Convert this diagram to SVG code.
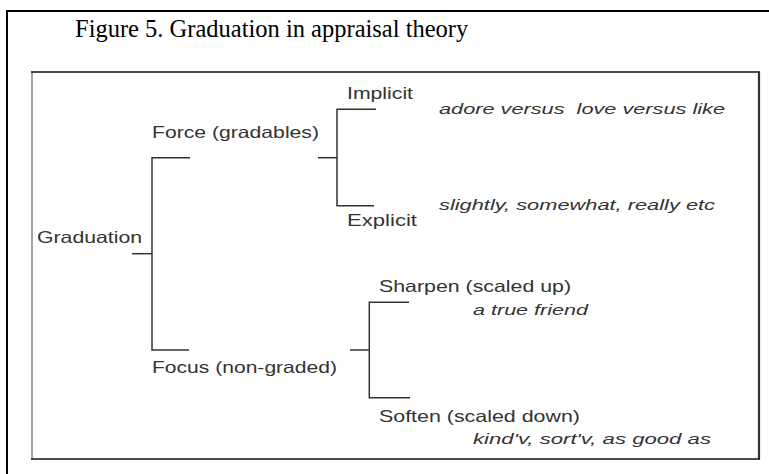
<svg xmlns="http://www.w3.org/2000/svg" width="769" height="474" viewBox="0 0 769 474">
<style>
.t{font-family:"Liberation Sans",Arial,sans-serif;font-size:16.5px;fill:#333;}
.i{font-family:"Liberation Sans",Arial,sans-serif;font-size:15.5px;font-style:italic;fill:#333;white-space:pre;}
.title{font-family:"Liberation Serif","Times New Roman",serif;font-size:24.5px;fill:#000;}
.c{fill:none;stroke:#333;stroke-width:1.5;}
</style>
<rect x="0" y="0" width="769" height="474" fill="#fff"/>
<g id="frame">
<rect x="7" y="11" width="780" height="480" fill="none" stroke="#000" stroke-width="2"/>
<line x1="32" y1="72" x2="32" y2="459" stroke="#888" stroke-width="1.5"/>
<line x1="31" y1="72" x2="760" y2="72" stroke="#111" stroke-width="1.5"/>
<line x1="759" y1="72" x2="759" y2="459" stroke="#333" stroke-width="2.2"/>
<line x1="31" y1="459" x2="760" y2="459" stroke="#111" stroke-width="1.5"/>
</g>
<text class="title" x="75" y="37">Figure 5. Graduation in appraisal theory</text>
<g id="connectors">
<path class="c" d="M132 253.7 H152"/>
<path class="c" d="M190 157.7 H152 V350 H189"/>
<path class="c" d="M318 157.7 H337"/>
<path class="c" d="M376 109.3 H337 V205.7 H374"/>
<path class="c" d="M350 350 H369.3"/>
<path class="c" d="M409 302.3 H369.3 V397.7 H410"/>
</g>
<g id="graduation"><text class="t" x="37" y="243" textLength="105" lengthAdjust="spacingAndGlyphs">Graduation</text></g>
<g id="force"><text class="t" x="152" y="137.5" textLength="167" lengthAdjust="spacingAndGlyphs">Force (gradables)</text></g>
<g id="focus"><text class="t" x="152" y="373" textLength="185" lengthAdjust="spacingAndGlyphs">Focus (non-graded)</text></g>
<g id="implicit"><text class="t" x="347" y="99" textLength="66" lengthAdjust="spacingAndGlyphs">Implicit</text>
<text class="i" x="439" y="114" textLength="286" lengthAdjust="spacingAndGlyphs">adore versus  love versus like</text></g>
<g id="explicit"><text class="t" x="347" y="226" textLength="70" lengthAdjust="spacingAndGlyphs">Explicit</text>
<text class="i" x="439" y="210" textLength="276" lengthAdjust="spacingAndGlyphs">slightly, somewhat, really etc</text></g>
<g id="sharpen"><text class="t" x="379" y="291.5" textLength="192" lengthAdjust="spacingAndGlyphs">Sharpen (scaled up)</text>
<text class="i" x="473" y="315" textLength="115" lengthAdjust="spacingAndGlyphs">a true friend</text></g>
<g id="soften"><text class="t" x="379" y="421.5" textLength="201" lengthAdjust="spacingAndGlyphs">Soften (scaled down)</text>
<text class="i" x="473" y="444" textLength="238" lengthAdjust="spacingAndGlyphs">kind'v, sort'v, as good as</text></g>
</svg>
